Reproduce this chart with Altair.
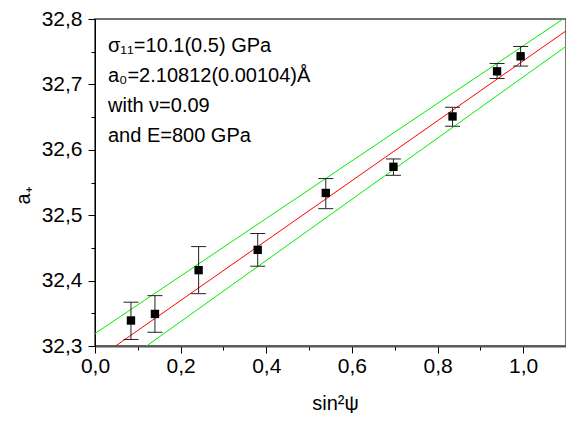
import altair as alt
import pandas as pd

# measured data (sin^2 psi, a+ with error bars)
sin2psi = [0.084, 0.140, 0.242, 0.380, 0.539, 0.697, 0.835, 0.939, 0.994]
a_plus = [32.339, 32.349, 32.416, 32.447, 32.534, 32.574, 32.651, 32.720, 32.743]
err_hi = [32.367, 32.377, 32.452, 32.472, 32.556, 32.586, 32.665, 32.732, 32.758]
err_lo = [32.310, 32.321, 32.380, 32.422, 32.510, 32.561, 32.636, 32.709, 32.728]

# fit line and confidence lines: intercept, slope
line_names = ["fit", "upper", "lower"]
line_intercepts = [32.278, 32.319, 32.2437]
line_slopes = [0.458, 0.440, 0.4676]

x_domain = [0.0, 1.1]
y_domain = [32.3, 32.8]

annotation = ["σ₁₁=10.1(0.5) GPa", "a₀=2.10812(0.00104)Å", "with ν=0.09", "and E=800 GPa"]

FONT = "Liberation Sans"

pts = pd.DataFrame({"x": sin2psi, "y": a_plus, "hi": err_hi, "lo": err_lo})
rows = []
for n, b, m in zip(line_names, line_intercepts, line_slopes):
    for xv in x_domain:
        rows.append({"name": n, "x": xv, "y": b + m * xv})
lines = pd.DataFrame(rows)

x_label = "round(datum.value*10)%2==1 ? '' : replace(format(datum.value,'.1f'),'.',',')"
y_label = "round(datum.value*100)%10!=0 ? '' : replace(format(datum.value,'.1f'),'.',',')"

x_axis = alt.Axis(
    values=[round(i * 0.1, 1) for i in range(0, 12)],
    labelExpr=x_label, labelOverlap=False, labelFlush=False,
    tickSize={"condition": {"test": "round(datum.value*10)%2==1", "value": 4}, "value": 7},
    tickColor="black", domainColor="#555", domainWidth=2,
    labelFontSize=21, labelPadding=2, labelFont=FONT, labelColor="black",
    title="sin²ψ", titleFontSize=20, titleFont=FONT, titleFontWeight="normal",
    titleX=240, titleY=63, titleBaseline="alphabetic", titleColor="black",
    grid=False,
)
y_axis = alt.Axis(
    values=[round(32.3 + i * 0.05, 2) for i in range(0, 11)],
    labelExpr=y_label, labelOverlap=False, labelFlush=False,
    tickSize={"condition": {"test": "round(datum.value*100)%10!=0", "value": 4}, "value": 7},
    tickColor="black", domainColor="black", domainWidth=1,
    labelFontSize=21, labelPadding=6, labelFont=FONT, labelColor="black",
    title="a₊", titleFontSize=20, titleFont=FONT, titleFontWeight="normal",
    titleX=-72, titleY=176, titleAngle=-90, titleBaseline="middle", titleColor="black",
    grid=False,
)

xs = alt.Scale(domain=x_domain, nice=False, zero=False)
ys = alt.Scale(domain=y_domain, nice=False, zero=False)

line_layer = alt.Chart(lines).mark_line(clip=True, strokeWidth=1).encode(
    x=alt.X("x:Q", scale=xs, axis=x_axis),
    y=alt.Y("y:Q", scale=ys, axis=y_axis),
    color=alt.Color("name:N", scale=alt.Scale(domain=line_names, range=["#ff0000", "#00ee00", "#00ee00"]), legend=None),
    detail="name:N",
)

bars = alt.Chart(pts).mark_rule(color="#222", strokeWidth=1).encode(
    x=alt.X("x:Q", scale=xs, axis=x_axis),
    y=alt.Y("lo:Q", scale=ys, axis=y_axis),
    y2="hi:Q",
)
cap_hi = alt.Chart(pts).mark_tick(orient="horizontal", size=15, thickness=1, color="#222", opacity=1).encode(
    x=alt.X("x:Q", scale=xs, axis=x_axis),
    y=alt.Y("hi:Q", scale=ys, axis=y_axis),
)
cap_lo = alt.Chart(pts).mark_tick(orient="horizontal", size=15, thickness=1, color="#222", opacity=1).encode(
    x=alt.X("x:Q", scale=xs, axis=x_axis),
    y=alt.Y("lo:Q", scale=ys, axis=y_axis),
)
points = alt.Chart(pts).mark_square(size=70, color="black", opacity=1).encode(
    x=alt.X("x:Q", scale=xs, axis=x_axis),
    y=alt.Y("y:Q", scale=ys, axis=y_axis),
)

text = alt.Chart(pts).transform_filter("datum.x < 0.1").mark_text(
    align="left", baseline="alphabetic", fontSize=20, font=FONT, lineHeight=30, color="black"
).encode(
    x=alt.value(13),
    y=alt.value(33),
    text=alt.value(annotation),
)

chart = alt.layer(line_layer, bars, cap_hi, cap_lo, points, text).properties(
    width=471, height=327,
    autosize=alt.AutoSizeParams(type="none"),
    padding={"left": 87, "top": 11, "right": 0, "bottom": 67},
).configure_view(stroke="#444", strokeWidth=1.5)

chart.save("out.html", embed_options={"renderer": "svg", "actions": False})
